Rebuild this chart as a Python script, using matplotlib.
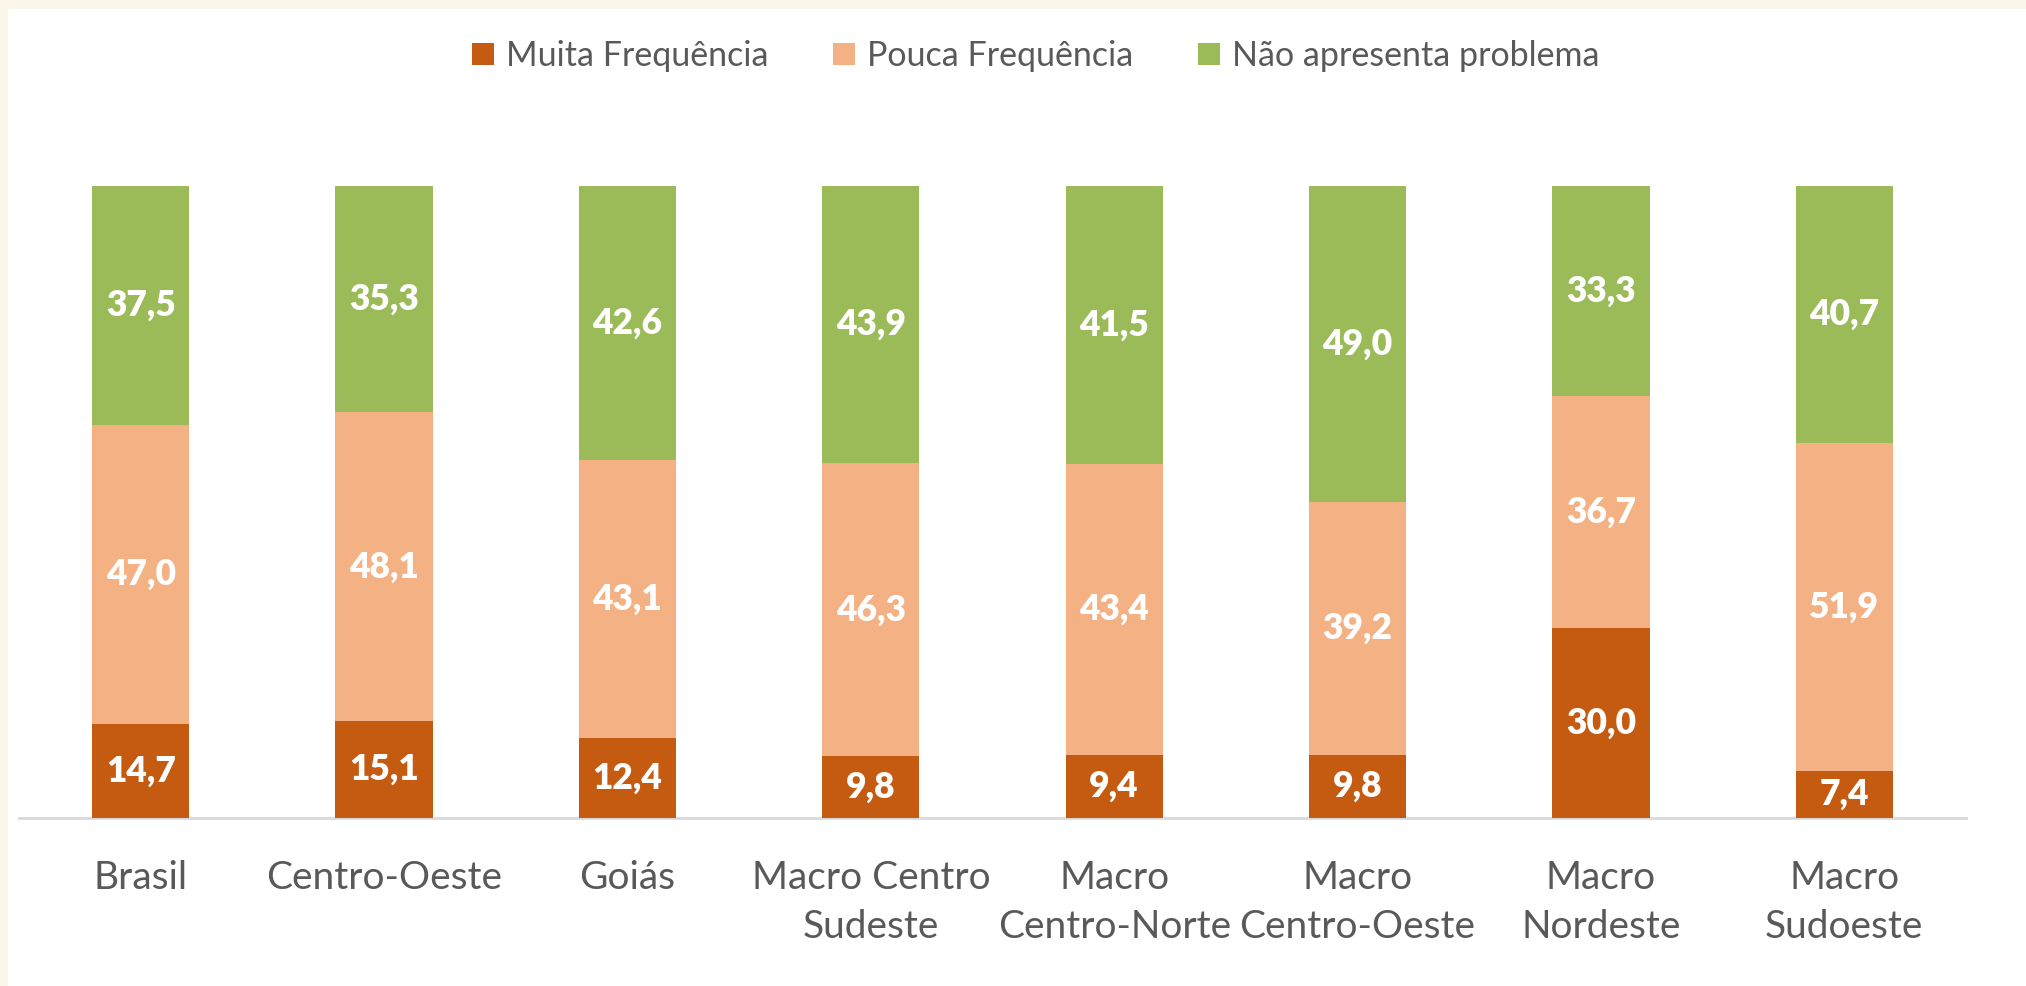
import matplotlib
matplotlib.use("Agg")
import matplotlib.pyplot as plt
from matplotlib.patches import Rectangle
import numpy as np

categories = ["Brasil", "Centro-Oeste", "Goiás", "Macro Centro\nSudeste", "Macro\nCentro-Norte",
              "Macro\nCentro-Oeste", "Macro\nNordeste", "Macro\nSudoeste"]
muita = [14.7, 15.1, 12.4, 9.8, 9.4, 9.8, 30.0, 7.4]
pouca = [47.0, 48.1, 43.1, 46.3, 43.4, 39.2, 36.7, 51.9]
nao = [37.5, 35.3, 42.6, 43.9, 41.5, 49.0, 33.3, 40.7]
series_names = ["Muita Frequência", "Pouca Frequência", "Não apresenta problema"]
colors = ["#C55A11", "#F4B183", "#9BBB59"]

plt.rcParams['font.family'] = ['Lato', 'DejaVu Sans']

W, H = 2026, 986
fig = plt.figure(figsize=(W / 100, H / 100), dpi=100)
fig.patch.set_facecolor("#FBF6EA")
bg = Rectangle((8 / W, 0), 1, 1 - 9 / H, transform=fig.transFigure,
               facecolor="white", edgecolor="none", zorder=-10)
fig.patches.append(bg)

ax = fig.add_axes([19 / W, 1 - 818 / H, (1966 - 19) / W, 632 / H])
ax.set_facecolor("none")

data = np.array([muita, pouca, nao])
totals = data.sum(axis=0)
pct = data / totals * 100
x = np.arange(len(categories))
bottom = np.zeros(len(categories))
handles = []
for i in range(3):
    bars = ax.bar(x, pct[i], 0.40, bottom=bottom, color=colors[i], label=series_names[i], zorder=2)
    handles.append(bars)
    for xi, b, h, v in zip(x, bottom, pct[i], data[i]):
        ax.text(xi, b + h / 2, f"{v:.1f}".replace(".", ","), ha="center", va="center",
                color="white", fontsize=25.5, fontweight="heavy", zorder=3)
    bottom += pct[i]

ax.set_xlim(-0.5, len(categories) - 0.5)
ax.set_ylim(0, 100)
ax.set_yticks([])
for s in ["top", "right", "left"]:
    ax.spines[s].set_visible(False)
ax.spines["bottom"].set_color("#D9D9D9")
ax.spines["bottom"].set_linewidth(2)
ax.spines["bottom"].set_zorder(1)
ax.set_xticks(x)
ax.set_xticklabels(categories, fontsize=28, color="#595959", linespacing=1.45)
ax.tick_params(axis="x", length=0, pad=30)

fig.legend(handles=handles, labels=series_names, loc="center", bbox_to_anchor=(1036 / W, 1 - 56 / H),
           ncol=3, frameon=False, fontsize=24.5, labelcolor="#595959",
           handlelength=0.65, handleheight=0.65, handletextpad=0.35, columnspacing=1.9)

fig.savefig("out.png", dpi=100, facecolor=fig.get_facecolor())
